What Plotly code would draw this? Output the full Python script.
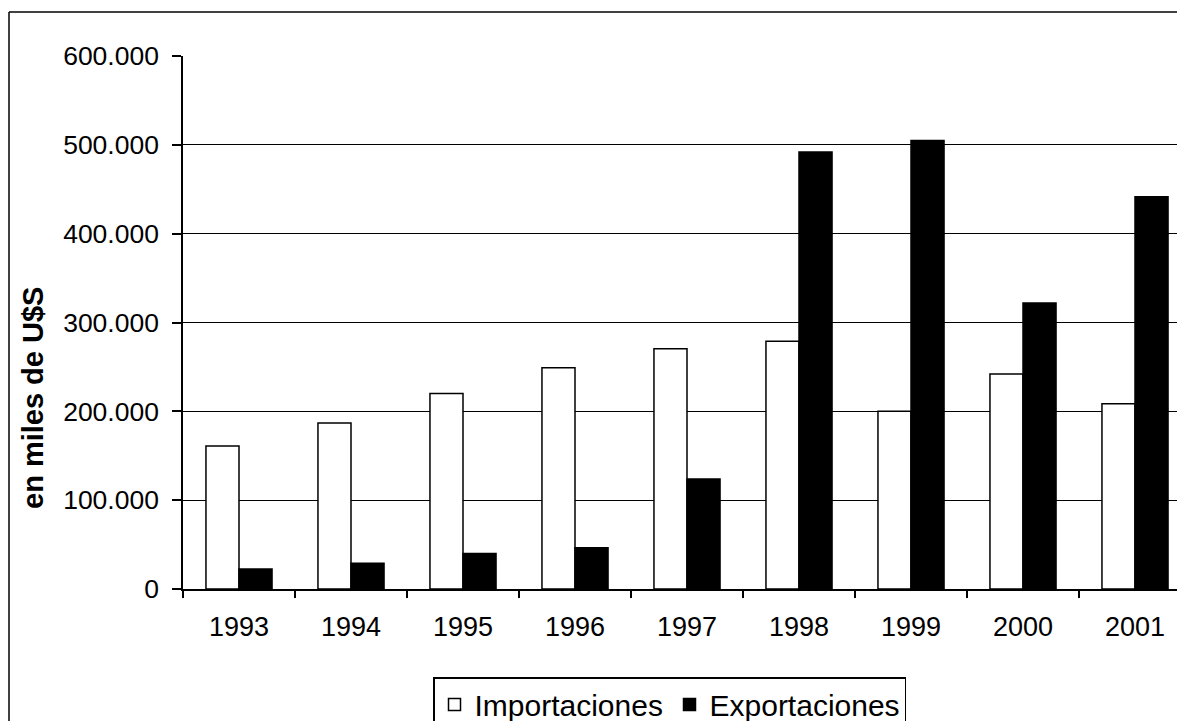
import plotly.graph_objects as go

years = ["1993", "1994", "1995", "1996", "1997", "1998", "1999", "2000", "2001"]
importaciones = [161000, 187000, 220000, 249000, 270500, 279000, 200000, 242000, 208500]
exportaciones = [22500, 29000, 40000, 46500, 123700, 492000, 505000, 322000, 441500]

y_tick_vals = [0, 100000, 200000, 300000, 400000, 500000, 600000]
y_tick_text = ["0", "100.000", "200.000", "300.000", "400.000", "500.000", "600.000"]
grid_vals = [0, 100000, 200000, 300000, 400000, 500000]

FONT = "Liberation Sans, Arial, sans-serif"

fig = go.Figure()
fig.add_trace(go.Bar(
    x=years, y=importaciones, name="Importaciones",
    marker=dict(color="white", line=dict(color="black", width=1.5)),
))
fig.add_trace(go.Bar(
    x=years, y=exportaciones, name="Exportaciones",
    marker=dict(color="black", line=dict(color="black", width=1.5)),
))
# empty helper trace so that the overlaid tick axis (y2) is drawn
fig.add_trace(go.Scatter(x=[], y=[], yaxis="y2", showlegend=False, hoverinfo="skip"))

W, H = 1177, 721
L, T, B = 183, 56, 132
pw, ph = W - L, H - T - B

def px_to_paper_x(px):
    return (px - L) / pw

def px_to_paper_y(py):
    return (H - B - py) / ph

border_x = px_to_paper_x(9)
border_y = px_to_paper_y(12)

fig.update_layout(
    width=W, height=H,
    margin=dict(l=L, r=0, t=T, b=B, pad=0),
    paper_bgcolor="white", plot_bgcolor="white",
    font=dict(family=FONT, color="black", size=25),
    barmode="group", bargap=0.41, bargroupgap=0,
    showlegend=True,
    legend=dict(
        orientation="h", xref="container", yref="container",
        x=433 / W, y=(H - 677) / H,
        xanchor="left", yanchor="top",
        bordercolor="black", borderwidth=1.5, bgcolor="white",
        font=dict(size=30, family=FONT, color="black"),
        traceorder="normal", entrywidth=190, entrywidthmode="pixels",
    ),
    xaxis=dict(
        type="category", range=[-0.5, -0.5 + pw / 112.0],
        showline=True, linecolor="black", linewidth=1.5,
        ticks="outside", tickson="boundaries", ticklen=7, tickwidth=1.5, tickcolor="black",
        showgrid=False, zeroline=False,
        tickfont=dict(size=27), ticklabelstandoff=13,
    ),
    yaxis=dict(
        range=[0, 600000], tickmode="array", tickvals=grid_vals,
        showticklabels=False, ticks="",
        showgrid=True, gridcolor="black", gridwidth=1,
        showline=False, zeroline=False,
    ),
    yaxis2=dict(
        overlaying="y", side="left", anchor="x",
        range=[0, 600000], tickmode="array", tickvals=y_tick_vals, ticktext=y_tick_text,
        ticks="outside", ticklen=9, tickwidth=1.5, tickcolor="black",
        showline=True, linecolor="black", linewidth=1.5,
        showgrid=False, zeroline=False,
        tickfont=dict(size=26.5), ticklabelstandoff=8,
    ),
    annotations=[dict(
        text="<b>en miles de U$S</b>", textangle=-90,
        xref="paper", yref="paper",
        x=px_to_paper_x(33), y=px_to_paper_y(398),
        xanchor="center", yanchor="middle", showarrow=False,
        font=dict(size=29, family=FONT, color="black"),
    )],
    shapes=[
        dict(type="line", xref="paper", yref="paper",
             x0=border_x, x1=1.0, y0=border_y, y1=border_y,
             line=dict(color="black", width=1.5), layer="below"),
        dict(type="line", xref="paper", yref="paper",
             x0=border_x, x1=border_x, y0=border_y, y1=px_to_paper_y(H),
             line=dict(color="black", width=1.5), layer="below"),
    ],
)

fig.write_html(
    "out.html", config={"displayModeBar": False},
    post_script="document.body.style.margin='0';document.body.style.overflow='hidden';"
                "document.documentElement.style.overflow='hidden';",
)
